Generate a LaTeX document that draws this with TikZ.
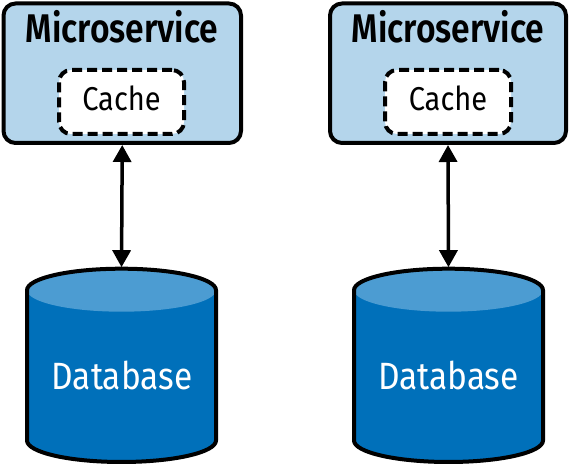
\documentclass[tikz,border=0pt]{standalone}
\usepackage{fontspec}
\setmainfont{Fira Sans}
\newfontfamily\msfont[FakeStretch=0.84]{Fira Sans SemiBold}
\newfontfamily\cfont[FakeStretch=0.88]{Fira Sans}
\usetikzlibrary{arrows.meta,calc}
\definecolor{boxfill}{HTML}{B4D5EB}
\definecolor{dbtop}{HTML}{4C9CD2}
\definecolor{dbbody}{HTML}{0070BA}
\tikzset{
  msbox/.style={draw=black, line width=4pt, fill=boxfill, rounded corners=12pt,
    minimum width=#1, minimum height=139.5pt, inner sep=0pt, outer sep=0pt},
  cachebox/.style={draw=black, line width=4pt, fill=white, rounded corners=12pt,
    dash pattern=on 10pt off 5pt, minimum height=64pt, minimum width=#1,
    inner sep=0pt, outer sep=0pt},
  cachelabel/.style={font=\cfont\fontsize{33}{33}\selectfont, inner sep=0pt, anchor=base},
  mslabel/.style={font=\msfont\fontsize{40}{40}\selectfont, inner sep=0pt, anchor=base},
  dbframe/.style={minimum width=189pt, minimum height=193.3pt, inner sep=0pt, outer sep=0pt},
  dblabel/.style={text=white, font=\cfont\fontsize{38}{38}\selectfont, inner sep=0pt, anchor=base},
  link/.style={line width=3.5pt, {Triangle[width=18pt,length=17pt]}-{Triangle[width=18pt,length=17pt]}}
}
\newcommand{\dbdraw}[1]{%
  \fill[dbbody] ($(#1.north west)+(0,-21.5)$) -- ($(#1.south west)+(0,21.5)$)
     arc[start angle=180,end angle=360,x radius=94.5,y radius=21.5]
     -- ($(#1.north east)+(0,-21.5)$) -- cycle;
  \fill[dbtop] ($(#1.north)+(0,-21.5)$) ellipse[x radius=94.5,y radius=21.5];
  \draw[line width=4pt,line join=round] ($(#1.north west)+(0,-21.5)$) -- ($(#1.south west)+(0,21.5)$)
     arc[start angle=180,end angle=360,x radius=94.5,y radius=21.5]
     -- ($(#1.north east)+(0,-21.5)$)
     arc[start angle=0,end angle=180,x radius=94.5,y radius=21.5];
}
\begin{document}
\begin{tikzpicture}[x=1pt,y=1pt]
\useasboundingbox (0,0) rectangle (570,468);
% left column
\node[msbox=237.5pt] (ms1) at (122.25,394.75) {};
\node[mslabel] (t1) at (122,425) {Microservice};
\node[cachebox=125pt] (c1) at (121.5,366) {};
\node[cachelabel] (k1) at (121.5,357) {Cache};
\node[dbframe] (db1) at (121.5,102.65) {};
\dbdraw{db1}
\node[dblabel] (d1) at (122,78) {Database};
% right column
\node[msbox=236pt] (ms2) at (448,394.75) {};
\node[mslabel] (t2) at (448,425) {Microservice};
\node[cachebox=126pt] (c2) at (448,366) {};
\node[cachelabel] (k2) at (448,357) {Cache};
\node[dbframe] (db2) at (448.5,102.65) {};
\dbdraw{db2}
\node[dblabel] (d2) at (448.5,78) {Database};
% links
\draw[link, shorten <=2pt, shorten >=1.5pt] (ms1.south) -- (db1.north);
\draw[link, shorten <=2pt, shorten >=1.5pt] (ms2.south) -- (db2.north);
\end{tikzpicture}
\end{document}
